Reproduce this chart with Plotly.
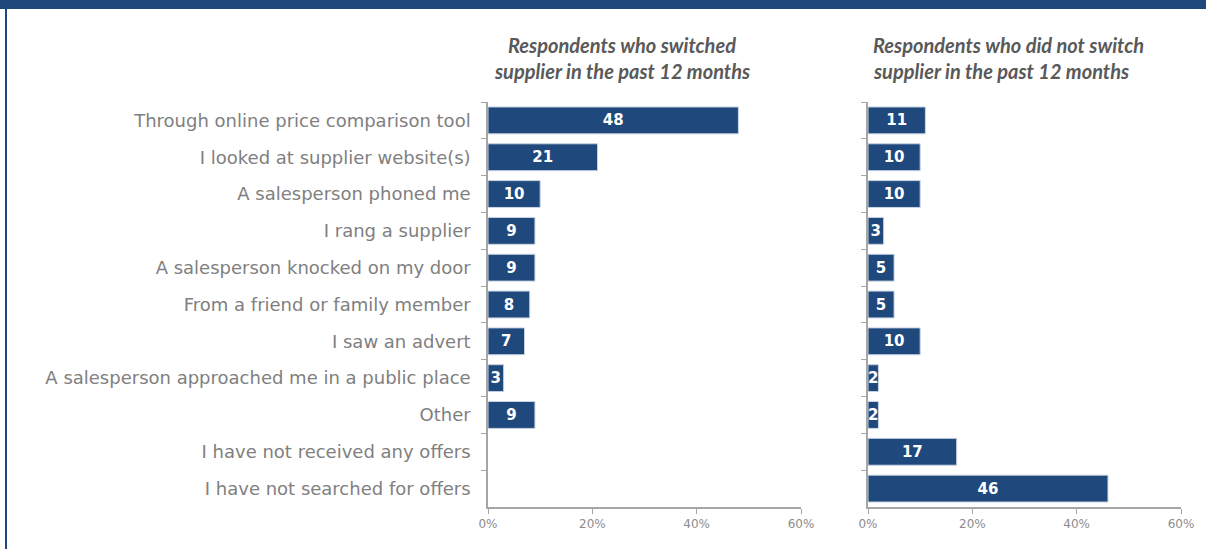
import plotly.graph_objects as go

# Ways respondents found out about offers (% of respondents)
categories = [
    "Through online price comparison tool",
    "I looked at supplier website(s)",
    "A salesperson phoned me",
    "I rang a supplier",
    "A salesperson knocked on my door",
    "From a friend or family member",
    "I saw an advert",
    "A salesperson approached me in a public place",
    "Other",
    "I have not received any offers",
    "I have not searched for offers",
]
switched = [48, 21, 10, 9, 9, 8, 7, 3, 9, None, None]
not_switched = [11, 10, 10, 3, 5, 5, 10, 2, 2, 17, 46]
x_ticks = [0, 20, 40, 60]
x_tick_labels = ["0%", "20%", "40%", "60%"]
title_left = ["Respondents who switched", "supplier in the past 12 months"]
title_right = ["Respondents who did not switch", "supplier in the past 12 months"]

BAR = "#1f497d"
AXIS = "#a6a6a6"
LABEL = "#808080"
W, H = 1206, 549

fig = go.Figure()


def add_panel(values, xa, ya):
    fig.add_trace(go.Bar(
        y=categories, x=values, orientation="h",
        xaxis=xa, yaxis=ya,
        marker=dict(color=BAR, line=dict(color="#c9d4e3", width=1)),
        text=[("" if v is None else str(v)) for v in values],
        textposition="inside", insidetextanchor="middle",
        textfont=dict(family="DejaVu Sans", size=15, color="white", weight="bold"),
        cliponaxis=False, hoverinfo="skip", showlegend=False,
    ))


add_panel(switched, "x", "y")
add_panel(not_switched, "x2", "y2")

xaxis_common = dict(
    range=[0, 60], tickvals=x_ticks, ticktext=x_tick_labels,
    showgrid=False, zeroline=False, showline=True, linecolor=AXIS, linewidth=1.5,
    ticks="outside", ticklen=5, tickcolor=AXIS,
    tickfont=dict(family="DejaVu Sans", size=12, color="#8c8c8c"),
    fixedrange=True, automargin=False,
)
yaxis_common = dict(
    autorange="reversed", showgrid=False, zeroline=False,
    showline=True, linecolor=AXIS, linewidth=1.5,
    ticks="outside", ticklen=5, tickcolor=AXIS, tickson="boundaries",
    fixedrange=True, automargin=False, domain=[0.0765, 0.8142],
)

title_font = dict(family="Lato", size=20, color="#595959")
annotations = []
for line, yc in zip(title_left, [45, 71]):
    annotations.append(dict(
        text=f"<b><i>{line}</i></b>", xref="paper", yref="paper",
        x=622 / W, y=1 - yc / H, xanchor="center", yanchor="middle",
        showarrow=False, font=title_font))
for line, yc in zip(title_right, [45, 71]):
    annotations.append(dict(
        text=f"<b><i>{line}</i></b>", xref="paper", yref="paper",
        x=871 / W, y=1 - yc / H, xanchor="left", yanchor="middle",
        showarrow=False, font=title_font))

fig.update_layout(
    width=W, height=H, autosize=False,
    margin=dict(l=0, r=0, t=0, b=0, pad=0, autoexpand=False),
    paper_bgcolor="white", plot_bgcolor="white",
    bargap=0.27,
    uniformtext=dict(minsize=15, mode="show"),
    xaxis=dict(domain=[488 / W, 801 / W], anchor="y", **xaxis_common),
    xaxis2=dict(domain=[868 / W, 1181 / W], anchor="y2", **xaxis_common),
    yaxis=dict(anchor="x", showticklabels=True, ticklabelstandoff=12,
               tickfont=dict(family="DejaVu Sans", size=18, color=LABEL),
               **yaxis_common),
    yaxis2=dict(anchor="x2", showticklabels=False, **yaxis_common),
    shapes=[
        dict(type="rect", xref="paper", yref="paper", x0=0, x1=1,
             y0=1 - 9 / H, y1=1, fillcolor=BAR, line=dict(width=0), layer="above"),
        dict(type="rect", xref="paper", yref="paper", x0=5 / W, x1=7 / W,
             y0=0, y1=1, fillcolor=BAR, line=dict(width=0), layer="above"),
    ],
    annotations=annotations,
)

fig.write_html(
    "out.html",
    post_script="document.body.style.margin='0';document.body.style.overflow='hidden';",
)
